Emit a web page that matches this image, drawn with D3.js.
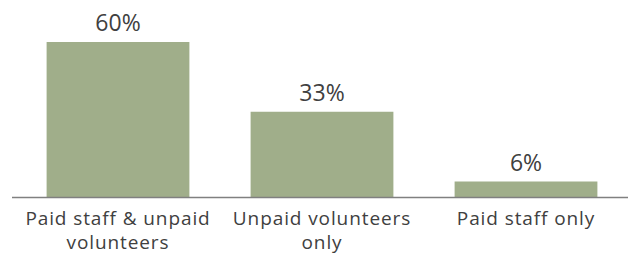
<!DOCTYPE html>
<html>
<head>
<meta charset="utf-8">
<script src="https://cdn.jsdelivr.net/npm/d3@7"></script>
<style>
  body { margin: 0; background: #fff; }
  svg text { font-family: "Open Sans", Lato, sans-serif; fill: #404040; }
  .value { font-size: 23px; }
  .cat { font-size: 19px; letter-spacing: 0.9px; }
</style>
</head>
<body>
<svg width="634" height="254"></svg>
<script>
// **** data ****
var categories = ['Paid staff & unpaid volunteers', 'Unpaid volunteers only', 'Paid staff only'];
var catLines = [['Paid staff & unpaid', 'volunteers'], ['Unpaid volunteers', 'only'], ['Paid staff only']];
var values = [60, 33, 6];

var svg = d3.select('svg');

// **** scales ****
var xScale = d3.scaleBand()
    .domain(categories).range([16, 628])
    .paddingInner(0.3).paddingOuter(0.15);

var yScale = d3.scaleLinear()
    .domain([0, 60]).range([197, 42]);

// **** bars ****
svg.selectAll('rect.bar').data(values).enter().append('rect')
    .attr('class', 'bar')
    .attr('x', function(d, i) { return xScale(categories[i]); })
    .attr('y', function(d) { return yScale(d); })
    .attr('width', xScale.bandwidth())
    .attr('height', function(d) { return yScale(0) - yScale(d); })
    .style('fill', '#a0ae8a');

// value labels
svg.selectAll('text.value').data(values).enter().append('text')
    .attr('class', 'value')
    .attr('x', function(d, i) { return xScale(categories[i]) + xScale.bandwidth() / 2; })
    .attr('y', function(d) { return yScale(d) - 11; })
    .attr('text-anchor', 'middle')
    .text(function(d) { return d + '%'; });

// **** axis line ****
svg.append('line')
    .attr('x1', 12).attr('x2', 628)
    .attr('y1', yScale(0) + 0.5).attr('y2', yScale(0) + 0.5)
    .style('stroke', '#808080')
    .style('stroke-width', 1.5);

// category labels
var cats = svg.selectAll('text.cat').data(categories).enter().append('text')
    .attr('class', 'cat')
    .attr('text-anchor', 'middle')
    .attr('transform', function(d) { return 'translate(' + (xScale(d) + xScale.bandwidth() / 2) + ',225)'; });

cats.selectAll('tspan').data(function(d, i) { return catLines[i]; }).enter().append('tspan')
    .attr('x', 0)
    .attr('dy', function(d, i) { return i === 0 ? 0 : 24; })
    .text(function(d) { return d; });
</script>
</body>
</html>
